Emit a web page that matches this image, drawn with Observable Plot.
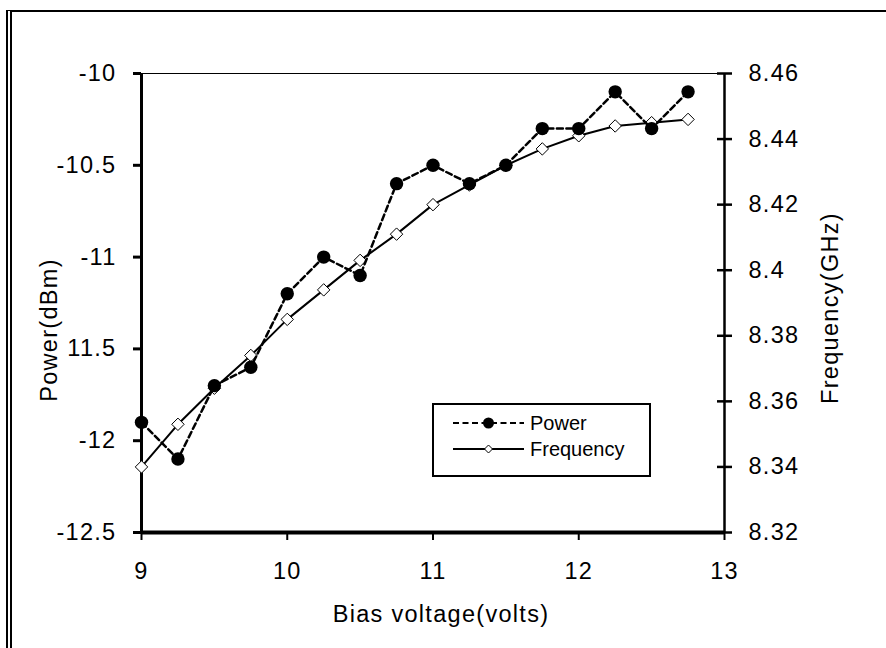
<!DOCTYPE html>
<html><head><meta charset="utf-8">
<script src="https://cdn.jsdelivr.net/npm/d3@7"></script>
<script src="https://cdn.jsdelivr.net/npm/@observablehq/plot@0.6"></script>
<style>
html,body{margin:0;padding:0;background:#fff;}
#wrap{position:relative;width:886px;height:648px;overflow:hidden;font-family:"Liberation Sans",Arial,sans-serif;}
#wrap svg.chart{position:absolute;left:0;top:0;}
#frame{position:absolute;left:6px;top:10px;right:-10px;bottom:-10px;border-top:2px solid #000;border-left:6px double #000;pointer-events:none;}
#legend{position:absolute;left:432px;top:403px;width:215px;height:70px;border:2px solid #000;background:#fff;}
#legend svg{position:absolute;left:0;top:0;}
</style></head><body><div id="wrap"></div>
<script>
const bias = [9, 9.25, 9.5, 9.75, 10, 10.25, 10.5, 10.75, 11, 11.25, 11.5, 11.75, 12, 12.25, 12.5, 12.75];
const power = [-11.9, -12.1, -11.7, -11.6, -11.2, -11.0, -11.1, -10.6, -10.5, -10.6, -10.5, -10.3, -10.3, -10.1, -10.3, -10.1];
const frequency = [8.340, 8.353, 8.364, 8.374, 8.385, 8.394, 8.403, 8.411, 8.420, 8.426, 8.432, 8.437, 8.441, 8.444, 8.445, 8.446];
const xTicks = [9, 10, 11, 12, 13];
const powerTicks = [-12.5, -12, -11.5, -11, -10.5, -10];
const freqTicks = [8.32, 8.34, 8.36, 8.38, 8.4, 8.42, 8.44, 8.46];
const xTitle = "Bias voltage(volts)";
const yTitle = "Power(dBm)";
const y2Title = "Frequency(GHz)";
const seriesNames = ["Power", "Frequency"];

const xDomain = [9, 13];
const pDomain = [-12.5, -10];
const fDomain = [8.32, 8.46];
const toP = f => pDomain[0] + (f - fDomain[0]) / (fDomain[1] - fDomain[0]) * (pDomain[1] - pDomain[0]);
const fromP = p => fDomain[0] + (p - pDomain[0]) / (pDomain[1] - pDomain[0]) * (fDomain[1] - fDomain[0]);

const rows = bias.map((b, i) => ({bias: b, power: power[i], freq: frequency[i], freqP: toP(frequency[i])}));

const chart = Plot.plot({
  width: 886, height: 648,
  marginLeft: 141, marginRight: 162, marginTop: 73, marginBottom: 116,
  style: {fontFamily: "'Liberation Sans', Arial, sans-serif", fontSize: "23.5px", letterSpacing: "1.3px", background: "transparent", color: "#000"},
  x: {domain: xDomain},
  y: {domain: pDomain},
  marks: [
    Plot.ruleY([pDomain[1]], {stroke: "#000", strokeWidth: 1.2}),
    Plot.axisX({ticks: xTicks, tickSize: 8, tickPadding: 22, strokeWidth: 2, tickFormat: d => String(d), label: null}),
    Plot.axisY({ticks: powerTicks, anchor: "left", tickSize: 8, tickPadding: 17, strokeWidth: 3, tickFormat: d => String(d), label: null}),
    Plot.axisY({ticks: freqTicks.map(toP), anchor: "right", tickSize: 15, dx: -8, strokeWidth: 2.5, tickFormat: () => "", label: null}),
    Plot.axisY({ticks: freqTicks.map(toP), anchor: "right", tickSize: 0, tickPadding: 24, tickFormat: d => String(+fromP(d).toFixed(2)), label: null}),
    Plot.ruleX([xDomain[0]], {stroke: "#000", strokeWidth: 3}),
    Plot.ruleX([xDomain[1]], {stroke: "#000", strokeWidth: 2.5}),
    Plot.ruleY([pDomain[0]], {stroke: "#000", strokeWidth: 4}),
    Plot.line(rows, {x: "bias", y: "freqP", stroke: "#000", strokeWidth: 2}),
    Plot.dot(rows, {x: "bias", y: "freqP", symbol: "diamond2", r: 5.6, fill: "#fff", stroke: "#000", strokeWidth: 1}),
    Plot.line(rows, {x: "bias", y: "power", stroke: "#000", strokeWidth: 2.5, strokeDasharray: "6,3.5"}),
    Plot.dot(rows, {x: "bias", y: "power", r: 6.7, fill: "#000", stroke: "none"}),
    Plot.text([xTitle], {text: d => d, frameAnchor: "bottom", textAnchor: "middle", dx: 8, dy: 82, lineAnchor: "middle", fill: "#000"}),
    Plot.text([yTitle], {text: d => d, frameAnchor: "left", textAnchor: "middle", rotate: -90, dx: -92, dy: 27, lineAnchor: "middle", fill: "#000", stroke: "#fff", strokeWidth: 20, paintOrder: "stroke"}),
    Plot.text([y2Title], {text: d => d, frameAnchor: "right", textAnchor: "middle", rotate: -90, dx: 106, dy: 5, lineAnchor: "middle", fill: "#000"})
  ]
});
chart.classList.add("chart");
const wrap = document.getElementById("wrap");
wrap.appendChild(chart);
const frame = document.createElement("div");
frame.id = "frame";
wrap.appendChild(frame);

// legend
const legend = document.createElement("div");
legend.id = "legend";
const ns = "http://www.w3.org/2000/svg";
const lsvg = document.createElementNS(ns, "svg");
lsvg.setAttribute("width", 215); lsvg.setAttribute("height", 70);
const rowsY = [18, 44];
seriesNames.forEach((name, i) => {
  const y = rowsY[i];
  const ln = document.createElementNS(ns, "line");
  ln.setAttribute("x1", 19); ln.setAttribute("x2", 90); ln.setAttribute("y1", y); ln.setAttribute("y2", y);
  ln.setAttribute("stroke", "#000");
  ln.setAttribute("stroke-width", i === 0 ? 2 : 1.8);
  if (i === 0) ln.setAttribute("stroke-dasharray", "6,3.5");
  lsvg.appendChild(ln);
  if (i === 0) {
    const c = document.createElementNS(ns, "circle");
    c.setAttribute("cx", 54.5); c.setAttribute("cy", y); c.setAttribute("r", 5.5); c.setAttribute("fill", "#000");
    lsvg.appendChild(c);
  } else {
    const p = document.createElementNS(ns, "path");
    const s = 4;
    p.setAttribute("d", `M${54.5},${y - s}L${54.5 + s},${y}L${54.5},${y + s}L${54.5 - s},${y}Z`);
    p.setAttribute("fill", "#fff"); p.setAttribute("stroke", "#000"); p.setAttribute("stroke-width", 1);
    lsvg.appendChild(p);
  }
  const t = document.createElementNS(ns, "text");
  t.setAttribute("x", 96); t.setAttribute("y", y + 7);
  t.setAttribute("font-size", "20px");
  t.setAttribute("font-family", "'Liberation Sans', Arial, sans-serif");
  t.textContent = name;
  lsvg.appendChild(t);
});
legend.appendChild(lsvg);
wrap.appendChild(legend);
</script></body></html>
